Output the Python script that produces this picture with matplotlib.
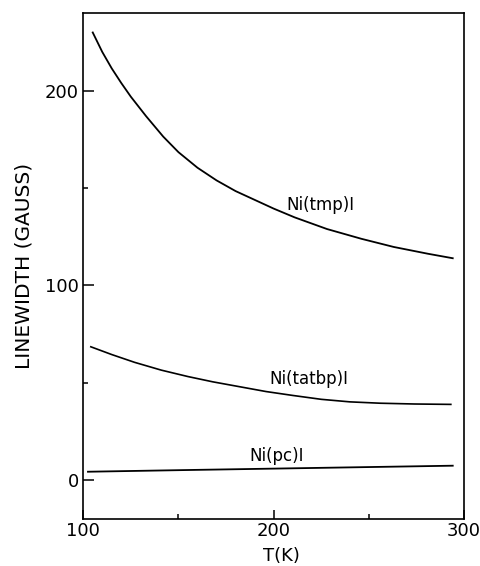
import matplotlib
matplotlib.use("Agg")
import matplotlib.pyplot as plt
from matplotlib.ticker import FixedLocator

# linewidth vs temperature
T_TMP = [105, 110, 115, 120, 125, 133, 142, 150, 160, 170, 180, 190, 200, 211,
         228, 246, 263, 281, 294]
LW_TMP = [230, 220, 211.5, 204, 197, 187, 176.5, 168.5, 160.5, 154, 148.5, 144,
          139.5, 135, 129, 124, 119.8, 116.3, 114]

T_TATBP = [104, 115, 127, 141, 155, 168, 182, 196, 210, 225, 240, 256, 274, 293]
LW_TATBP = [68.5, 64.5, 60.5, 56.5, 53.2, 50.5, 48, 45.5, 43.5, 41.5, 40.2, 39.5,
            39.1, 38.9]

T_PC = [102.5, 150, 200, 250, 294]
LW_PC = [4.3, 5.1, 5.9, 6.7, 7.4]

LABELS = ["Ni(tmp)I", "Ni(tatbp)I", "Ni(pc)I"]
LABEL_POS = [(206.5, 141.5), (197.5, 52), (187, 12.6)]

XTICKS = [100, 200, 300]
XMINOR = [150, 250]
YTICKS = [0, 100, 200]
YMINOR = [50, 150]

fig = plt.figure(figsize=(4.81, 5.66), dpi=100)
ax = fig.add_axes([0.173, 0.083, 0.792, 0.894])

ax.plot(T_TMP, LW_TMP, color="black", lw=1.3)
ax.plot(T_TATBP, LW_TATBP, color="black", lw=1.2)
ax.plot(T_PC, LW_PC, color="black", lw=1.3)

for txt, (x, y) in zip(LABELS, LABEL_POS):
    ax.text(x, y, txt, fontsize=12, ha="left", va="center")

ax.set_xlim(100, 300)
ax.set_ylim(-20, 240)
ax.xaxis.set_major_locator(FixedLocator(XTICKS))
ax.xaxis.set_minor_locator(FixedLocator(XMINOR))
ax.yaxis.set_major_locator(FixedLocator(YTICKS))
ax.yaxis.set_minor_locator(FixedLocator(YMINOR))
ax.tick_params(which="both", direction="in", width=1.1, labelsize=13)
ax.tick_params(axis="x", which="major", length=6.5, pad=2.5)
ax.tick_params(axis="y", which="major", length=8, pad=3)
ax.tick_params(which="minor", length=3.5)
for s in ax.spines.values():
    s.set_linewidth(1.2)

ax.set_ylabel("LINEWIDTH (GAUSS)", fontsize=14.5)
ax.yaxis.set_label_coords(-0.13, 0.5)
ax.set_xlabel("T(K)", fontsize=13)
ax.xaxis.set_label_coords(0.52, -0.056)

fig.savefig("out.png", dpi=100, facecolor="white")
